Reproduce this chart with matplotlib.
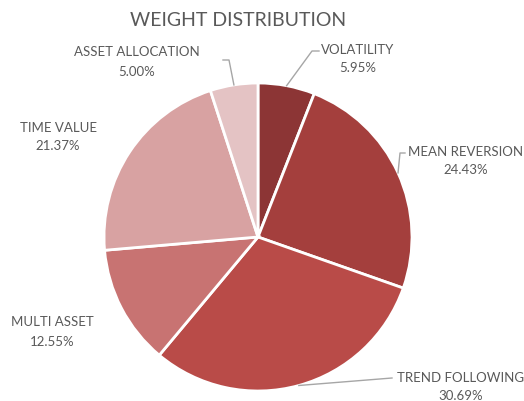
import numpy as np
import matplotlib.pyplot as plt

# Donnees du graphique
categorias = ["VOLATILITY", "MEAN REVERSION", "TREND FOLLOWING",
              "MULTI ASSET", "TIME VALUE", "ASSET ALLOCATION"]
pesos = [5.95, 24.43, 30.69, 12.55, 21.37, 5.00]
cores = ["#8C3535", "#A43F3D", "#B94B48", "#C87372", "#D8A2A2", "#E4C3C4"]

W, H = 524, 401
fig = plt.figure(figsize=(W / 100, H / 100), dpi=100)
ax = fig.add_axes([0, 0, 1, 1])

cx, cy, r = 258, H - 237, 154
wedges, _ = ax.pie(pesos, colors=cores, startangle=90, counterclock=False,
                   center=(cx, cy), radius=r, frame=True,
                   wedgeprops=dict(edgecolor="white", linewidth=2))
ax.set_xlim(0, W)
ax.set_ylim(0, H)
ax.set_aspect("equal")
ax.axis("off")

cor_txt = "#595959"
cor_linha = "#A6A6A6"
fonte = "Lato"

# posicao dos rotulos (pixels, centro do texto) e cotovelo da linha guia
rotulos = {
    "VOLATILITY": ((358, 59), [(312, 51), (319, 51)]),
    "MEAN REVERSION": ((466, 161), [(400, 153), (405, 153)]),
    "TREND FOLLOWING": ((461, 387), [(392, 378)]),
    "MULTI ASSET": ((52, 332), None),
    "TIME VALUE": ((58, 137), None),
    "ASSET ALLOCATION": ((137, 62), [(229, 60), (223, 60)]),
}

for w, nome, p in zip(wedges, categorias, pesos):
    (tx, ty), guia = rotulos[nome]
    ax.text(tx, H - ty, f"{nome}\n{p:.2f}%", ha="center", va="center",
            fontsize=9.5, color=cor_txt, family=fonte, linespacing=1.7)
    if guia:
        ang = np.deg2rad((w.theta1 + w.theta2) / 2)
        x0, y0 = cx + r * np.cos(ang), cy + r * np.sin(ang)
        xs = [x0] + [g[0] for g in guia]
        ys = [y0] + [H - g[1] for g in guia]
        ax.plot(xs, ys, color=cor_linha, linewidth=1)

ax.text(238.5, H - 20, "WEIGHT DISTRIBUTION", ha="center", va="center",
        fontsize=14, color=cor_txt, family=fonte)

fig.savefig("out.png", dpi=100)
